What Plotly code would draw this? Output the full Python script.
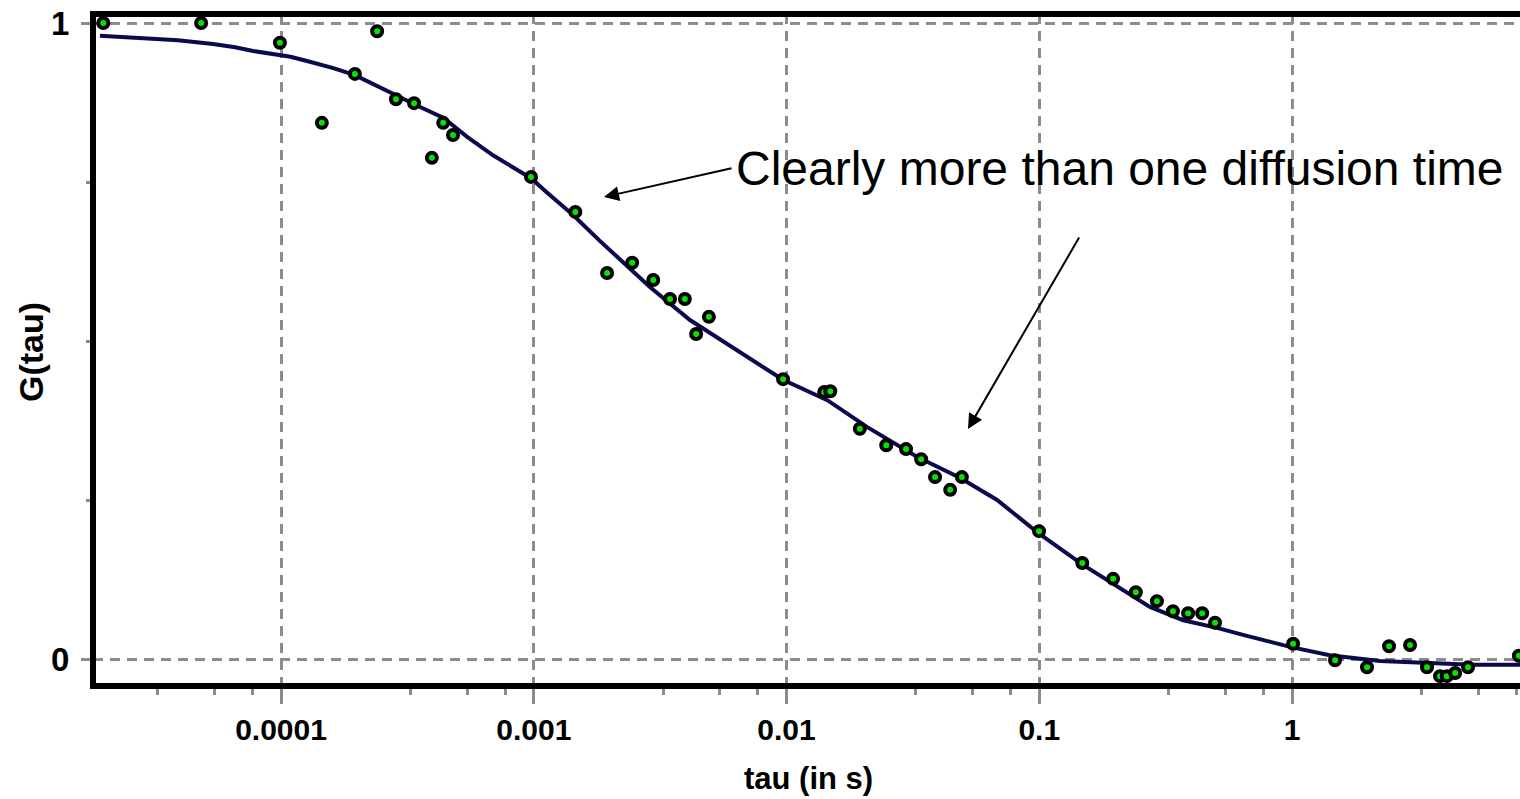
import plotly.graph_objects as go

# ---- data ----
tau_fit = [1.92e-5, 2.48e-5, 3.91e-5, 5.38e-5, 6.58e-5, 7.75e-5, 9.21e-5, 1.09e-4, 1.30e-4,
           1.61e-4, 1.96e-4, 2.40e-4, 2.88e-4, 3.55e-4, 4.38e-4, 5.45e-4, 6.90e-4, 9.75e-4,
           1.13e-3, 1.43e-3, 1.83e-3, 2.19e-3, 2.88e-3, 4.15e-3, 6.37e-3, 9.69e-3, 1.45e-2,
           2.08e-2, 3.28e-2, 4.85e-2, 6.81e-2, 9.98e-2, 0.149, 0.196, 0.274, 0.371, 0.505,
           0.640, 0.982, 1.41, 1.74, 2.23, 3.30, 5.20, 7.98]
g_fit = [0.980, 0.978, 0.973, 0.967, 0.962, 0.956, 0.951, 0.947, 0.939,
         0.929, 0.918, 0.901, 0.884, 0.868, 0.851, 0.821, 0.792, 0.756,
         0.733, 0.698, 0.657, 0.628, 0.585, 0.533, 0.486, 0.439, 0.407,
         0.365, 0.318, 0.285, 0.250, 0.197, 0.148, 0.119, 0.082, 0.061, 0.049,
         0.038, 0.019, 0.006, 0.002, -0.003, -0.006, -0.009, -0.009]

tau_data = [1.98e-5, 4.83e-5, 9.9e-5, 1.45e-4, 1.96e-4, 2.40e-4, 2.85e-4, 3.36e-4, 3.95e-4,
            4.38e-4, 4.79e-4, 9.75e-4, 1.46e-3, 1.95e-3, 2.45e-3, 2.97e-3, 3.46e-3, 3.96e-3,
            4.39e-3, 4.93e-3, 9.69e-3, 1.41e-2, 1.49e-2, 1.95e-2, 2.48e-2, 2.97e-2, 3.41e-2,
            3.87e-2, 4.44e-2, 4.94e-2, 0.0998, 0.148, 0.196, 0.241, 0.292, 0.338, 0.388,
            0.441, 0.496, 1.01, 1.48, 1.98, 2.42, 2.93, 3.42, 3.85, 4.10, 4.42, 4.97, 7.9]
g_data = [1.000, 1.000, 0.969, 0.843, 0.920, 0.987, 0.880, 0.874, 0.788,
          0.843, 0.824, 0.758, 0.703, 0.607, 0.623, 0.596, 0.566, 0.566,
          0.511, 0.538, 0.440, 0.420, 0.421, 0.362, 0.336, 0.330, 0.314,
          0.286, 0.266, 0.286, 0.201, 0.151, 0.126, 0.105, 0.091, 0.075, 0.072,
          0.072, 0.057, 0.024, -0.002, -0.013, 0.020, 0.022, -0.013, -0.027, -0.027, -0.022, -0.013, 0.005]

x_tick_vals = [1e-4, 1e-3, 1e-2, 1e-1, 1]
x_tick_text = ["0.0001", "0.001", "0.01", "0.1", "1"]
y_tick_vals = [0, 1]
y_tick_text = ["0", "1"]
minor_mult = [3.25, 5.45, 7.7]
x_minor = [m * 10 ** e for e in range(-5, 1) for m in minor_mult]
y_minor = [0.25, 0.5, 0.75]

x_title = "tau (in s)"
y_title = "G(tau)"
note = "Clearly more than one diffusion time"

# ---- styling ----
GRID = "#8c8c8c"
NARROW = "Liberation Sans Narrow, Arial Narrow, Liberation Sans, Arial, sans-serif"
L, R, T, B = 93, 1520, 14, 686

fig = go.Figure()
fig.add_trace(go.Scatter(x=tau_fit, y=g_fit, mode="lines",
                         line=dict(color="#0a0a4e", width=4), hoverinfo="skip"))
fig.add_trace(go.Scatter(x=tau_data, y=g_data, mode="markers", cliponaxis=False,
                         marker=dict(size=10, color="#00e600", line=dict(color="black", width=4))))

fig.update_layout(
    width=1520, height=799,
    margin=dict(l=L, r=1520 - R, t=T, b=799 - B, pad=0),
    paper_bgcolor="white", plot_bgcolor="white",
    showlegend=False,
    xaxis=dict(type="log", range=[-4.744, 0.902],
               tickmode="array", tickvals=x_tick_vals, ticktext=x_tick_text,
               showgrid=True, gridcolor=GRID, gridwidth=3, griddash="10px,7px",
               ticks="outside", ticklen=17, tickwidth=3, tickcolor=GRID,
               tickfont=dict(family=NARROW, size=30, color="black", weight="bold"),
               ticklabelstandoff=0,
               minor=dict(tickmode="array", tickvals=x_minor, ticks="outside",
                          ticklen=8, tickwidth=3, tickcolor=GRID, showgrid=False),
               showline=False, zeroline=False),
    yaxis=dict(range=[-0.04245, 1.01415],
               tickmode="array", tickvals=y_tick_vals, ticktext=y_tick_text,
               showgrid=True, gridcolor=GRID, gridwidth=3, griddash="10px,7px",
               ticks="outside", ticklen=11, tickwidth=3, tickcolor=GRID,
               tickfont=dict(family=NARROW, size=33, color="black", weight="bold"),
               ticklabelstandoff=5,
               minor=dict(tickmode="array", tickvals=y_minor, ticks="outside",
                          ticklen=6, tickwidth=3, tickcolor=GRID, showgrid=False),
               showline=False, zeroline=False),
)

W, H = R - L, B - T
def px(xp):
    return (xp - L) / W
def py(yp):
    return (B - yp) / H

# frame (left, top, bottom)
for x0, y0, x1, y1 in [(px(L), py(B + 3), px(L), py(T - 3)),
                       (px(L - 3), py(T), px(R), py(T)),
                       (px(L - 3), py(B), px(R), py(B))]:
    fig.add_shape(type="line", xref="paper", yref="paper", x0=x0, y0=y0, x1=x1, y1=y1,
                  line=dict(color="black", width=6), layer="above")

# axis titles
fig.add_annotation(text=x_title, xref="paper", yref="paper", x=px(808), y=py(778),
                   showarrow=False, xanchor="center", yanchor="middle",
                   font=dict(family=NARROW, size=31, color="black", weight="bold"))
fig.add_annotation(text=y_title, xref="paper", yref="paper", x=px(31), y=py(352),
                   showarrow=False, xanchor="center", yanchor="middle", textangle=-90,
                   font=dict(family=NARROW, size=34, color="black", weight="bold"))

# note text and arrows
fig.add_annotation(text=note, xref="paper", yref="paper", x=px(734), y=py(169),
                   showarrow=False, xanchor="left", yanchor="middle",
                   font=dict(family="Liberation Sans, Arial, sans-serif", size=48, color="black"))
fig.add_annotation(text="", xref="paper", yref="paper", x=px(604), y=py(197),
                   ax=733 - 604, ay=168 - 197, showarrow=True, arrowhead=2,
                   arrowsize=1.5, arrowwidth=2, arrowcolor="black")
fig.add_annotation(text="", xref="paper", yref="paper", x=px(968), y=py(429),
                   ax=1080 - 968, ay=236 - 429, showarrow=True, arrowhead=2,
                   arrowsize=1.5, arrowwidth=2, arrowcolor="black")

fig.write_html("out.html", config={"displayModeBar": False},
               post_script="document.body.style.margin='0';")
